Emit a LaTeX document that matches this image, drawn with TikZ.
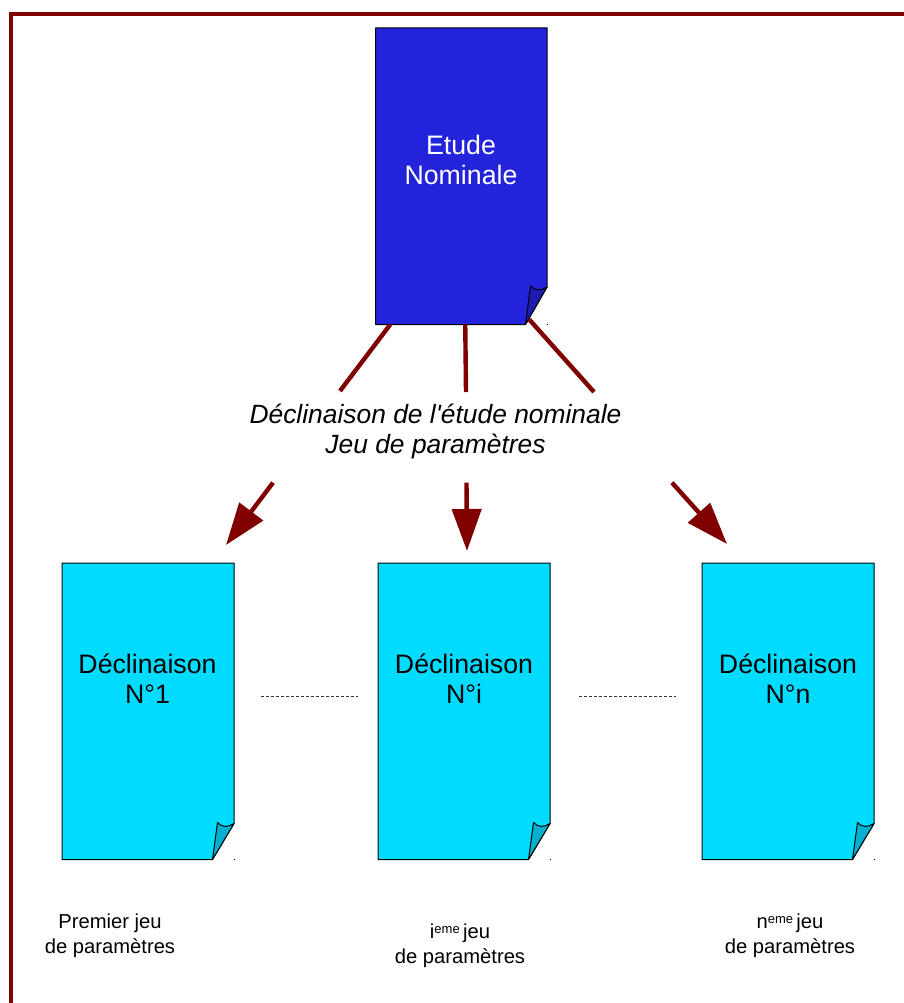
\documentclass[tikz,border=0pt]{standalone}
\usepackage{fontspec}
\setmainfont[Ligatures=TeXOff]{Liberation Sans}
\usetikzlibrary{arrows.meta}
\definecolor{frame}{RGB}{128,0,0}
\definecolor{navydoc}{RGB}{35,35,220}
\definecolor{navyfold}{RGB}{28,28,176}
\definecolor{cyandoc}{RGB}{0,220,255}
\definecolor{cyanfold}{RGB}{0,176,204}
\newcommand{\sheet}[5]{%
  \fill[#3] (#1.north west) -- (#1.north east) -- ([yshift=#2]#1.south east) -- ([xshift=-21.5pt]#1.south east) -- (#1.south west) -- cycle;
  \draw[docline] (#1.north west) -- (#1.north east) -- ([yshift=#2]#1.south east) -- ([xshift=-21.5pt]#1.south east) -- (#1.south west) -- cycle;
  \draw[docline,fill=#4] ([yshift=#2]#1.south east) .. controls ([xshift=-6pt,yshift=#2-4pt]#1.south east) and ([xshift=-12pt,yshift=#2-4pt]#1.south east) .. ([xshift=-16.5pt,yshift=#2+1pt]#1.south east) -- ([xshift=-21.5pt]#1.south east) -- cycle;
  \fill[black] ([xshift=-0.5pt,yshift=0.5pt]#1.south east) rectangle ++(1pt,-1pt);
  #5}
\tikzset{
  x=1pt,y=-1pt,
  docline/.style={draw=black,line width=1pt,line join=round},
  docbox/.style={minimum width=172pt,minimum height=296.5pt,inner sep=0pt,outer sep=0pt,align=center,anchor=north west},
  bigtext/.style={inner sep=0pt,align=center,font=\fontsize{26.4}{30}\selectfont\itshape},
  sheettext/.style={inner sep=0pt,align=center,font=\fontsize{26.7}{30}\selectfont},
  smalltext/.style={inner sep=0pt,align=center,font=\fontsize{20.2}{24.5}\selectfont},
  link/.style={draw=frame,line width=4.4pt},
  linkarrow/.style={draw=frame,fill=frame,line width=4.4pt,-{Triangle[length=42pt,width=29pt]}},
  gap/.style={draw=black!80,line width=0.5pt,dash pattern=on 3pt off 2pt},
  border/.style={draw=frame,line width=4pt,line join=miter}
}
\begin{document}
\begin{tikzpicture}
\useasboundingbox[fill=white] (0,0) rectangle (904,1003);
\draw[border] (11,1003) -- (11,14) -- (904,14);

% document sheets (text added afterwards so it stays on top)
\node[docbox,minimum width=171.5pt] (nominal) at (375.5,28) {};
\node[docbox] (d1) at (62,563) {};
\node[docbox] (di) at (378,563) {};
\node[docbox] (dn) at (702,563) {};
\sheet{nominal}{37.5pt}{navydoc}{navyfold}{}
\sheet{d1}{36pt}{cyandoc}{cyanfold}{}
\sheet{di}{36pt}{cyandoc}{cyanfold}{}
\sheet{dn}{36pt}{cyandoc}{cyanfold}{}

\node[sheettext,text=white] (nomtext) at (461,160) {Etude\\Nominale};
\node[sheettext] (d1text) at (147.5,679) {Déclinaison\\N°1};
\node[sheettext] (ditext) at (464,679) {Déclinaison\\N°i};
\node[sheettext] (dntext) at (788,679) {Déclinaison\\N°n};

\node[bigtext] (decl) at (435.5,432) {Déclinaison de l'étude nominale\\Jeu de paramètres};

% links: sheet to label
\coordinate (ua) at (340,391);
\coordinate (ub) at (466,392);
\coordinate (uc) at (594,392);
\draw[link] ([xshift=-71pt]nominal.south) -- (ua);
\draw[link] ([xshift=4pt]nominal.south) -- (ub);
\draw[link] ([xshift=68pt,yshift=5pt]nominal.south) -- (uc);

% arrows: label to sheets
\draw[linkarrow] ([xshift=-162.5pt,yshift=-23pt]decl.south) -- ([xshift=78pt,yshift=18pt]d1.north);
\draw[linkarrow] ([xshift=31pt,yshift=-23pt]decl.south) -- ([xshift=3pt,yshift=12pt]di.north);
\draw[linkarrow] ([xshift=236.5pt,yshift=-23pt]decl.south) -- ([xshift=-61pt,yshift=19pt]dn.north);

% dashed gaps between sheets
\draw[gap] ([xshift=27pt,yshift=15pt]d1.east) -- ([xshift=-20pt,yshift=15pt]di.west);
\draw[gap] ([xshift=29pt,yshift=15pt]di.east) -- ([xshift=-26pt,yshift=15pt]dn.west);

% captions
\node[smalltext] (c1) at (110,936) {Premier jeu\\de paramètres};
\node[smalltext] (c2) at (460,946) {i\raisebox{0.55ex}{\fontsize{13}{13}\selectfont eme}\,jeu\\de paramètres};
\node[smalltext] (c3) at (790,936) {n\raisebox{0.55ex}{\fontsize{13}{13}\selectfont eme}\,jeu\\de paramètres};
\end{tikzpicture}
\end{document}
